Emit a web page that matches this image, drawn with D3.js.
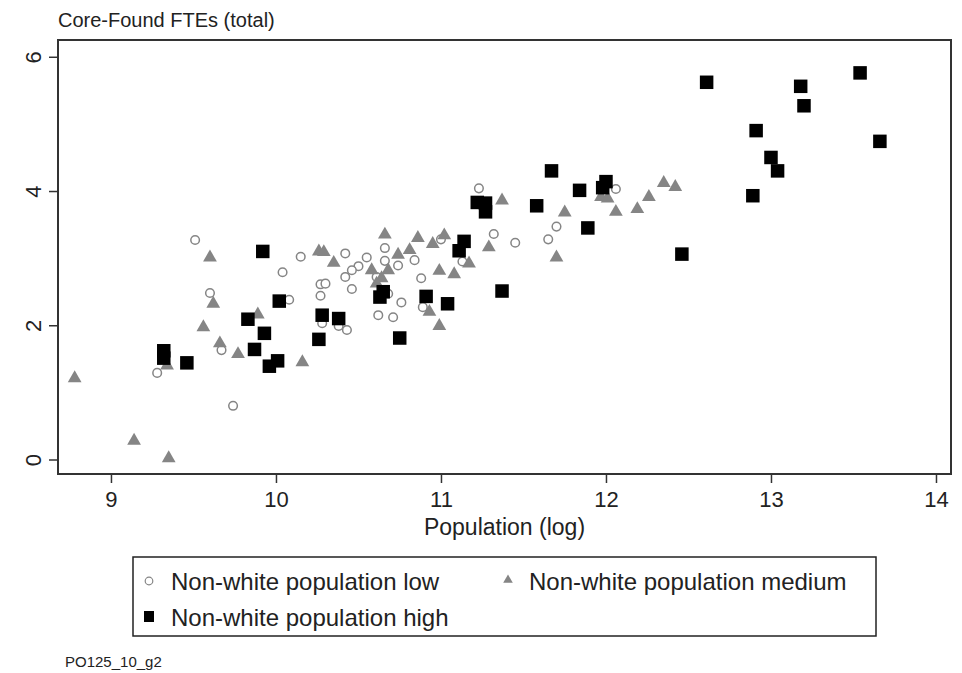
<!DOCTYPE html>
<html>
<head>
<meta charset="utf-8">
<script src="https://cdn.jsdelivr.net/npm/d3@7"></script>
<style>
  html, body { margin: 0; padding: 0; background: #fff; }
  svg text { font-family: "Liberation Sans", Arial, sans-serif; fill: #222; }
</style>
</head>
<body>
<svg id="chart" width="962" height="673"></svg>
<script>
// ---- data ----
const lowX = [9.51,10.15,10.04,9.60,10.08,9.67,9.28,9.74,10.42,10.66,10.55,10.50,10.46,10.42,10.66,10.84,10.74,10.61,10.27,10.30,10.27,10.46,10.88,10.68,10.76,10.89,10.28,10.38,10.43,10.62,10.71,11.00,11.23,12.06,11.70,11.65,11.32,11.45,11.13];
const lowY = [3.27,3.02,2.79,2.48,2.38,1.63,1.29,0.80,3.07,3.15,3.01,2.88,2.82,2.72,2.96,2.97,2.89,2.72,2.61,2.62,2.44,2.54,2.70,2.47,2.34,2.27,2.03,1.99,1.93,2.15,2.12,3.28,4.04,4.03,3.47,3.28,3.36,3.23,2.95];
const medX = [9.60,9.62,9.89,9.56,9.66,9.34,9.77,10.16,8.78,9.14,9.35,10.66,10.86,11.02,10.95,10.26,10.29,10.35,10.74,10.81,10.58,10.68,10.64,10.61,10.99,10.93,10.99,11.37,11.75,11.97,12.01,12.06,12.19,12.26,12.35,12.42,11.70,11.29,11.17,11.08];
const medY = [3.01,2.32,2.16,1.97,1.73,1.40,1.57,1.45,1.21,0.28,0.02,3.35,3.30,3.34,3.21,3.10,3.09,2.93,3.05,3.12,2.82,2.82,2.70,2.62,2.81,2.20,1.99,3.86,3.68,3.91,3.89,3.69,3.73,3.91,4.12,4.06,3.01,3.16,2.92,2.76];
const highX = [9.92,10.02,9.83,9.93,9.32,9.32,9.46,9.87,9.96,10.01,10.28,10.38,10.26,10.65,10.63,10.91,11.04,10.75,11.67,11.22,11.27,11.27,11.58,11.84,12.00,11.98,11.89,11.14,11.11,11.37,12.46,12.61,13.54,13.18,13.20,13.66,12.91,13.00,13.04,12.89];
const highY = [3.10,2.36,2.09,1.88,1.62,1.51,1.44,1.64,1.39,1.47,2.15,2.10,1.79,2.50,2.42,2.43,2.32,1.81,4.30,3.83,3.82,3.69,3.78,4.01,4.14,4.05,3.45,3.25,3.11,2.51,3.06,5.62,5.76,5.56,5.27,4.74,4.90,4.50,4.30,3.93];
const xTicks = [9, 10, 11, 12, 13, 14];
const yTicks = [0, 2, 4, 6];
const seriesNames = ["Non-white population low", "Non-white population medium", "Non-white population high"];
const titleText = "Core-Found FTEs (total)";
const xTitle = "Population (log)";
const noteText = "PO125_10_g2";

// ---- layout ----
const svg = d3.select("#chart");
const L = 58, R = 951, T = 40, B = 474;
const x = d3.scaleLinear().domain([8.679, 14.091]).range([L, R]);
const y = d3.scaleLinear().domain([-0.216, 6.25]).range([B, T]);

const gray = "#858585";
const FF = "Liberation Sans, Arial, sans-serif";

// title
svg.append("text").attr("x", 58).attr("y", 27).attr("font-size", 20).text(titleText);

// frame
svg.append("rect").attr("x", L).attr("y", T).attr("width", R - L).attr("height", B - T)
  .attr("fill", "none").attr("stroke", "#333").attr("stroke-width", 2);

// x axis
const xAxis = svg.append("g").attr("transform", `translate(0,${B})`)
  .call(d3.axisBottom(x).tickValues(xTicks).tickSize(9).tickPadding(8).tickFormat(d3.format("d")));
xAxis.select(".domain").remove();
xAxis.selectAll("line").attr("stroke", "#333").attr("stroke-width", 1.5);
xAxis.selectAll("text").attr("font-size", 22).attr("fill", "#222").attr("font-family", FF);

// y axis
const yAxis = svg.append("g").attr("transform", `translate(${L},0)`)
  .call(d3.axisLeft(y).tickValues(yTicks).tickSize(9).tickFormat(d3.format("d")));
yAxis.select(".domain").remove();
yAxis.selectAll("line").attr("stroke", "#333").attr("stroke-width", 1.5);
yAxis.selectAll("text").remove();
yAxis.selectAll(".tick").append("text")
  .attr("transform", "translate(-25,0) rotate(-90)")
  .attr("text-anchor", "middle").attr("dy", "0.35em")
  .attr("font-size", 22).attr("fill", "#222").attr("font-family", FF)
  .text(d => d3.format("d")(d));

// x title
svg.append("text").attr("x", (L + R) / 2).attr("y", 535).attr("text-anchor", "middle")
  .attr("font-size", 23).text(xTitle);

// points
const low = lowX.map((v, i) => [v, lowY[i]]);
const med = medX.map((v, i) => [v, medY[i]]);
const high = highX.map((v, i) => [v, highY[i]]);

const tri = d3.symbol().type(d3.symbolTriangle).size(82);
const sq = 13.5;

svg.append("g").selectAll("circle").data(low).join("circle")
  .attr("cx", d => x(d[0])).attr("cy", d => y(d[1])).attr("r", 4.3)
  .attr("fill", "#fff").attr("stroke", gray).attr("stroke-width", 1.5);

svg.append("g").selectAll("path").data(med).join("path")
  .attr("transform", d => `translate(${x(d[0])},${y(d[1])})`)
  .attr("d", tri).attr("fill", gray);

svg.append("g").selectAll("rect").data(high).join("rect")
  .attr("x", d => x(d[0]) - sq / 2).attr("y", d => y(d[1]) - sq / 2)
  .attr("width", sq).attr("height", sq).attr("fill", "#000");

// legend
const lg = svg.append("g");
lg.append("rect").attr("x", 133).attr("y", 557).attr("width", 743).attr("height", 79)
  .attr("fill", "#fff").attr("stroke", "#222").attr("stroke-width", 1.5);
lg.append("circle").attr("cx", 149).attr("cy", 581).attr("r", 3.8)
  .attr("fill", "#fff").attr("stroke", gray).attr("stroke-width", 1.2);
lg.append("text").attr("x", 171).attr("y", 590).attr("font-size", 24).text(seriesNames[0]);
lg.append("path").attr("transform", "translate(508,580)")
  .attr("d", d3.symbol().type(d3.symbolTriangle).size(40)).attr("fill", gray);
lg.append("text").attr("x", 529).attr("y", 590).attr("font-size", 24).text(seriesNames[1]);
lg.append("rect").attr("x", 144).attr("y", 611).attr("width", 10).attr("height", 11).attr("fill", "#000");
lg.append("text").attr("x", 171).attr("y", 626).attr("font-size", 24).text(seriesNames[2]);

// note
svg.append("text").attr("x", 65).attr("y", 667).attr("font-size", 15).text(noteText);
</script>
</body>
</html>
